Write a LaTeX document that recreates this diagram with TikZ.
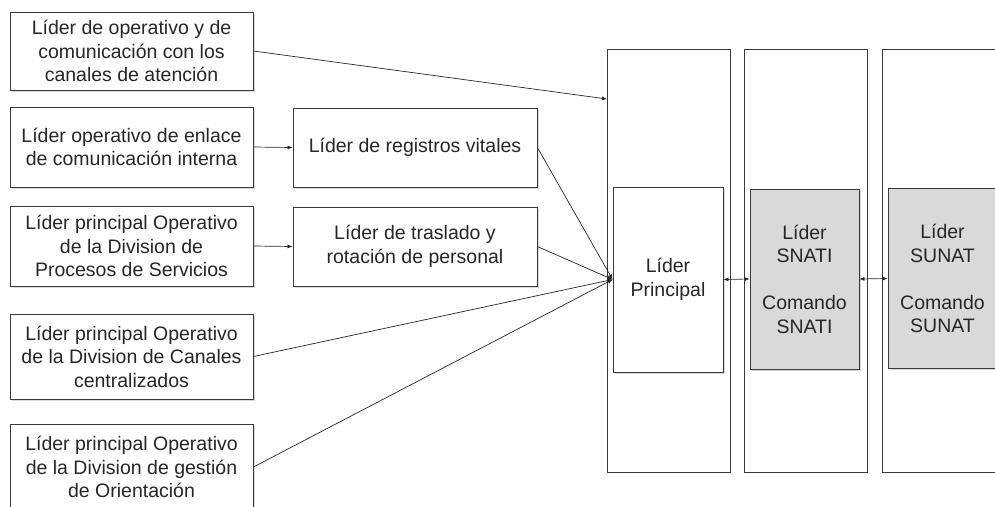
\documentclass[tikz,border=0pt]{standalone}
\usepackage{fontspec}
\setmainfont{Liberation Sans}
\usepackage{xcolor}
\usetikzlibrary{arrows.meta,shadows}
\definecolor{boxgray}{HTML}{D9D9D9}
\definecolor{edgegray}{HTML}{3A3A3A}

\begin{document}
\begin{tikzpicture}[x=1pt,y=-1pt,
	txt/.style={font=\fontsize{19.5}{23.5}\selectfont,text=black!85,align=center,inner sep=0pt},
	lbox/.style={txt,draw=edgegray,line width=0.8pt,fill=white,minimum width=243pt,
		drop shadow={shadow xshift=1.5pt,shadow yshift=-1.5pt,opacity=.3}},
	column/.style={draw=edgegray,line width=0.8pt,fill=white,minimum width=123pt,minimum height=423pt,inner sep=0pt},
	gbox/.style={lbox,fill=boxgray,minimum width=109pt,minimum height=180pt},
	conn/.style={line width=0.7pt,black!85,-{Latex[length=5pt,width=4pt]}},
	both/.style={line width=0.7pt,black!85,{Latex[length=5pt,width=4pt]}-{Latex[length=5pt,width=4pt]}}]
	\useasboundingbox (0,0) rectangle (995,506);
	\clip (0,0) rectangle (995,506);
		\node[column] (colprin) at (668.5,260.5) {};
		\node[column] (colsnati) at (806,260.5) {};
		\node[column] (colsunat) at (943.5,260.5) {};
		\node[lbox,minimum height=78pt] (canales) at (131.5,51) {Líder de operativo y de\\comunicación con los\\canales de atención};
		\node[lbox,minimum height=80pt] (enlace) at (131.5,147) {Líder operativo de enlace\\de comunicación interna};
		\node[lbox,minimum height=80pt] (procesos) at (131.5,246) {Líder principal Operativo\\de la Division de\\Procesos de Servicios};
		\node[lbox,minimum height=85pt] (centralizados) at (131.5,356.5) {Líder principal Operativo\\de la Division de Canales\\centralizados};
		\node[lbox,minimum height=86pt] (orientacion) at (131.5,467) {Líder principal Operativo\\de la Division de gestión\\de Orientación};
		\node[lbox,minimum width=244pt,minimum height=79pt] (registros) at (415,147.5) {Líder de registros vitales};
		\node[lbox,minimum width=244pt,minimum height=79pt] (traslado) at (415,246.5) {Líder de traslado y\\rotación de personal};
		\node[lbox,minimum width=110pt,minimum height=185pt] (principal) at (668,279.5) {Líder\\Principal};
		\node[gbox] (snati) at (804.5,279) {Líder\\SNATI\\[23.5pt]Comando\\SNATI};
		\node[gbox] (sunat) at (942.5,278.5) {Líder\\SUNAT\\[23.5pt]Comando\\SUNAT};
		\coordinate (entrada) at (607,99);
		\draw[conn] (canales.east) -- (entrada);
		\draw[conn] (enlace.east) -- (registros.west);
		\draw[conn] (procesos.east) -- (traslado.west);
		\draw[conn] (registros.east) -- (principal.west);
		\draw[conn] (traslado.east) -- (principal.west);
		\draw[conn] (centralizados.east) -- (principal.west);
		\draw[conn] (orientacion.east) -- (principal.west);
		\draw[both] (principal.east) -- (snati.west);
		\draw[both] (snati.east) -- (sunat.west);
	\end{tikzpicture}
\end{document}
